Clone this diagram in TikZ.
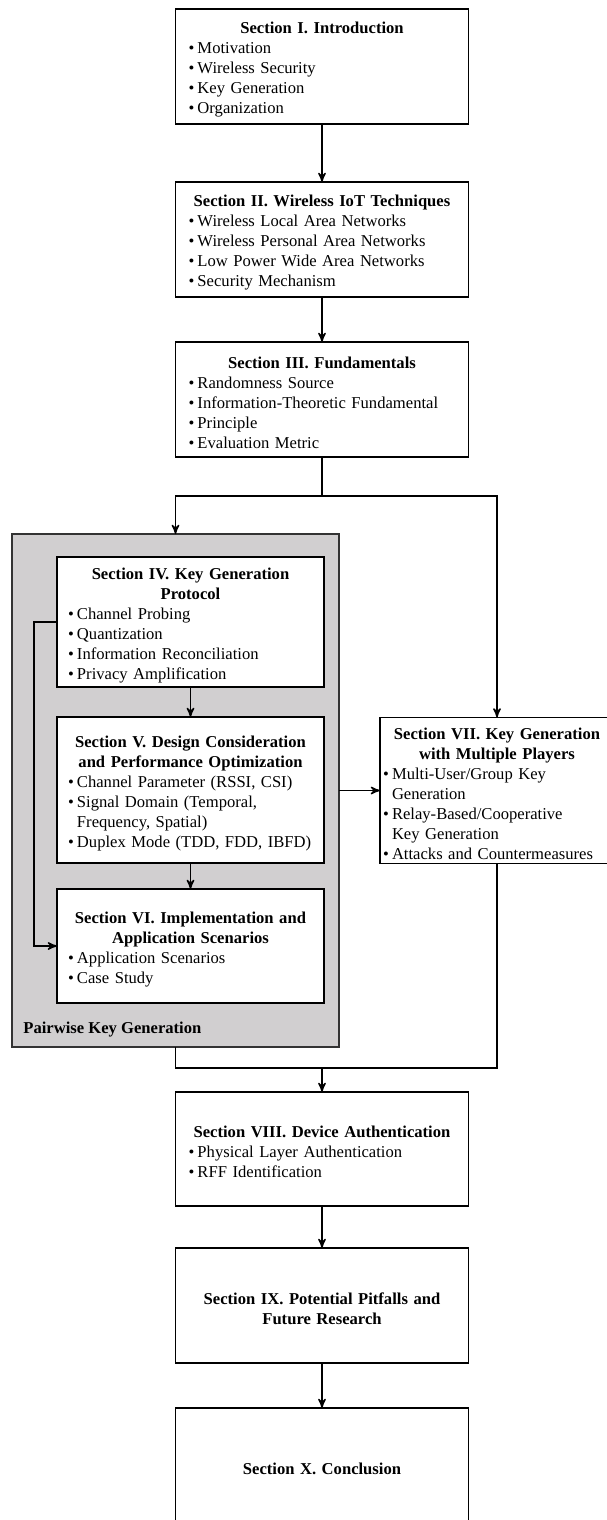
\documentclass[tikz,border=0pt]{standalone}
\usepackage{fontspec}
\setmainfont{Liberation Serif}
\usepackage{xcolor}
\usepackage{tikz}
\usetikzlibrary{arrows,positioning}
\definecolor{pairgray}{RGB}{209,207,208}
\setlength{\parindent}{0pt}
\newcommand{\secfont}{\fontsize{8.3pt}{10pt}\selectfont}
\newcommand{\sectitle}[1]{{\centering\bfseries\rule{0pt}{9pt}#1\par}}
\newcommand{\secitem}[1]{\par\noindent\hangindent=4.5pt\hangafter=1\makebox[4.5pt][l]{\textbullet}#1}
\tikzset{>=stealth'}
\tikzset{sec box/.style={draw,fill=white,line width=0.75pt,outer sep=0pt,text width=133.5pt,inner xsep=6.5pt,inner ysep=0pt,minimum height=57.5pt,font=\secfont},
            sub box/.style={sec box,text width=122.5pt,inner xsep=5.5pt},
            side box/.style={sec box,text width=114pt,inner xsep=1.5pt,minimum height=73pt},
            pair box/.style={draw=black!80,fill=pairgray,line width=0.75pt,outer sep=0pt,minimum width=163.5pt,minimum height=256.5pt,inner sep=0pt},
            conn/.style={line width=0.7pt},
            }

\begin{document}
\begin{tikzpicture}

    \useasboundingbox (0,0) rectangle (303pt,-760pt);

    \node[sec box] (s1) at (161pt,-33.25pt) {\sectitle{Section I. Introduction}
        \secitem{Motivation}
        \secitem{Wireless Security}
        \secitem{Key Generation}
        \secitem{Organization}};
    \node[sec box] (s2) [below=29pt of s1] {\sectitle{Section II. Wireless IoT Techniques}
        \secitem{Wireless Local Area Networks}
        \secitem{Wireless Personal Area Networks}
        \secitem{Low Power Wide Area Networks}
        \secitem{Security Mechanism}};
    \node[sec box] (s3) [below=22.5pt of s2] {\sectitle{Section III. Fundamentals}
        \secitem{Randomness Source}
        \secitem{Information-Theoretic Fundamental}
        \secitem{Principle}
        \secitem{Evaluation Metric}};

    % pairwise key generation group
    \node[pair box] (pair) [below=38.5pt of s3.south west] {};
    \node[sub box,minimum height=65pt] (s4) [below right=11.5pt and 22.5pt of pair.north west] {\sectitle{Section IV. Key Generation\\Protocol}
        \secitem{Channel Probing}
        \secitem{Quantization}
        \secitem{Information Reconciliation}
        \secitem{Privacy Amplification}};
    \node[sub box,minimum height=73pt] (s5) [below=15pt of s4] {\sectitle{Section V. Design Consideration\\and Performance Optimization}
        \secitem{Channel Parameter (RSSI, CSI)}
        \secitem{Signal Domain (Temporal,\newline Frequency, Spatial)}
        \secitem{\mbox{Duplex Mode (TDD, FDD, IBFD)}}};
    \node[sub box,minimum height=57pt] (s6) [below=13pt of s5] {\sectitle{Section VI. Implementation and\\Application Scenarios}
        \secitem{Application Scenarios}
        \secitem{Case Study}};
    \node[font=\secfont\bfseries,inner sep=0pt] (pairlabel) [above right=5pt and 5.5pt of pair.south west] {Pairwise Key Generation};

    \node[side box] (s7) [right=20.5pt of pair] {\sectitle{Section VII. Key Generation\\with Multiple Players}
        \secitem{Multi-User/Group Key\newline Generation}
        \secitem{Relay-Based/Cooperative\newline Key Generation}
        \secitem{\mbox{Attacks and Countermeasures}}};

    \node[sec box,minimum height=57pt] (s8) [below=317.5pt of s3] {\sectitle{Section VIII. Device Authentication}
        \secitem{Physical Layer Authentication}
        \secitem{RFF Identification}};
    \node[sec box] (s9) [below=21pt of s8] {\sectitle{Section IX. Potential Pitfalls and\\Future Research}};
    \node[sec box] (s10) [below=22.5pt of s9] {\sectitle{Section X. Conclusion}};

    \coordinate[below=19.5pt of s3] (split);
    \coordinate[below=10.5pt of pair.south] (merge);

    \path[conn,->]
    (s1) edge (s2)
    (s2) edge (s3)
    (s4) edge (s5)
    (s5) edge (s6)
    (pair.east) edge (s7.west)
    (s8) edge (s9)
    (s9) edge (s10);

    \draw[conn,->] (s3.south) -- (split) -| (pair.north);
    \draw[conn,->] (split) -| (s7.north);
    \draw[conn,->] (s4.west) -- ++(-11.5pt,0) |- (s6.west);
    \draw[conn] (pair.south) -- (merge) -| (s7.south);
    \draw[conn,->] (merge -| s8.north) -- (s8.north);

\end{tikzpicture}
\end{document}
